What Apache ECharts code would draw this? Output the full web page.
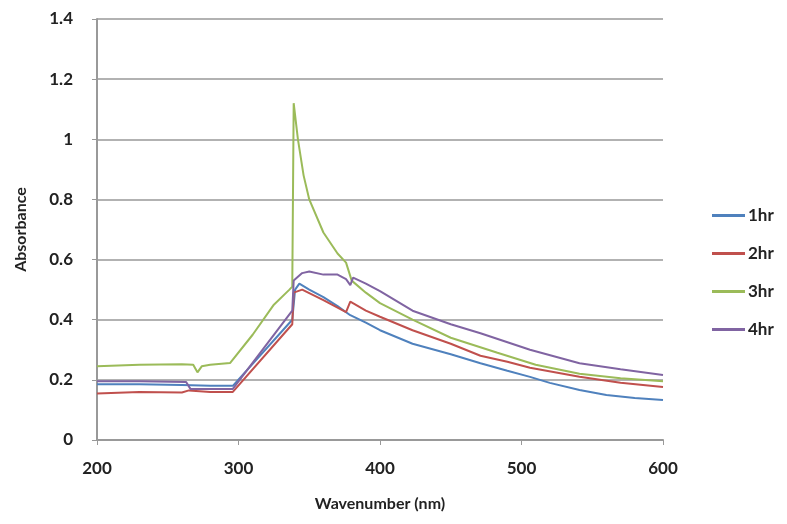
<!DOCTYPE html>
<html>
<head>
<meta charset="utf-8">
<script src="https://cdn.jsdelivr.net/npm/echarts@6/dist/echarts.min.js"></script>
<style>
html, body { margin: 0; padding: 0; background: #fff; }
#chart { width: 787px; height: 524px; }
</style>
</head>
<body>
<div id="chart"></div>
<script>
// wavelength (nm) / absorbance
var wl1hr  = [200,230,260,280,296,338,340,343,350,360,370,379,390,400,423,450,471,490,506,520,541,560,580,600];
var abs1hr = [0.185,0.185,0.183,0.18,0.18,0.40,0.50,0.52,0.50,0.475,0.445,0.415,0.39,0.365,0.32,0.285,0.255,0.23,0.21,0.19,0.166,0.15,0.14,0.133];

var wl2hr  = [200,230,260,265,280,296,338,339,345,360,376,379,390,400,423,450,471,490,506,541,570,600];
var abs2hr = [0.155,0.16,0.158,0.165,0.16,0.16,0.385,0.49,0.50,0.465,0.425,0.46,0.43,0.41,0.365,0.32,0.28,0.26,0.24,0.21,0.19,0.176];

var wl3hr  = [200,230,260,268,271,274,280,294,310,325,336,338,339,342,346,350,360,370,376,380,390,400,423,450,483,510,541,570,600];
var abs3hr = [0.245,0.25,0.252,0.25,0.225,0.245,0.25,0.256,0.35,0.45,0.50,0.51,1.12,1.0,0.88,0.80,0.69,0.62,0.59,0.53,0.49,0.455,0.40,0.34,0.29,0.25,0.22,0.205,0.195];

var wl4hr  = [200,230,263,266,280,296,338,339,345,350,360,370,376,379,381,390,400,423,450,471,506,541,570,600];
var abs4hr = [0.195,0.195,0.193,0.17,0.17,0.17,0.43,0.53,0.555,0.56,0.55,0.55,0.535,0.515,0.54,0.52,0.495,0.43,0.385,0.355,0.30,0.255,0.235,0.216];

var seriesNames = ['1hr','2hr','3hr','4hr'];
var seriesColors = ['#4F81BD','#C0504D','#9BBB59','#8064A2'];

function pairs(xs, ys) {
  var out = [];
  for (var i = 0; i < xs.length; i++) out.push([xs[i], ys[i]]);
  return out;
}

var allData = [pairs(wl1hr, abs1hr), pairs(wl2hr, abs2hr), pairs(wl3hr, abs3hr), pairs(wl4hr, abs4hr)];

var font = 'Lato, "Liberation Sans", sans-serif';
var chart = echarts.init(document.getElementById('chart'));

var series = [];
for (var i = 0; i < seriesNames.length; i++) {
  series.push({
    name: seriesNames[i],
    type: 'line',
    symbol: 'none',
    data: allData[i],
    lineStyle: { color: seriesColors[i], width: 2 },
    itemStyle: { color: seriesColors[i] }
  });
}

var option = {
  animation: false,
  backgroundColor: '#fff',
  grid: { left: 97, right: 124, top: 19, bottom: 84 },
  legend: {
    orient: 'vertical',
    left: 707,
    top: 202,
    icon: 'rect',
    itemWidth: 33,
    itemHeight: 3,
    itemGap: 21,
    data: seriesNames,
    textStyle: { fontFamily: font, fontWeight: 'bold', fontSize: 17, color: '#222', padding: [0, 0, 0, -2] }
  },
  xAxis: {
    type: 'value',
    min: 200,
    max: 600,
    interval: 100,
    name: 'Wavenumber (nm)',
    nameLocation: 'middle',
    nameGap: 56,
    nameTextStyle: { fontFamily: font, fontWeight: 'bold', fontSize: 16, color: '#222' },
    axisLine: { show: true, lineStyle: { color: '#999', width: 2 } },
    axisTick: { show: true, length: 5, lineStyle: { color: '#999' } },
    axisLabel: { margin: 20, fontFamily: font, fontWeight: 'bold', fontSize: 17, color: '#222' },
    splitLine: { show: false }
  },
  yAxis: {
    type: 'value',
    min: 0,
    max: 1.4,
    interval: 0.2,
    name: 'Absorbance',
    nameLocation: 'middle',
    nameGap: 68,
    nameTextStyle: { fontFamily: font, fontWeight: 'bold', fontSize: 16, color: '#222' },
    axisLine: { show: true, lineStyle: { color: '#999', width: 2 } },
    axisTick: { show: true, length: 5, lineStyle: { color: '#999' } },
    axisLabel: { margin: 24, fontFamily: font, fontWeight: 'bold', fontSize: 17, color: '#222' },
    splitLine: { show: true, lineStyle: { color: '#999', width: 1.5 } }
  },
  series: series
};
chart.setOption(option);
</script>
</body>
</html>
